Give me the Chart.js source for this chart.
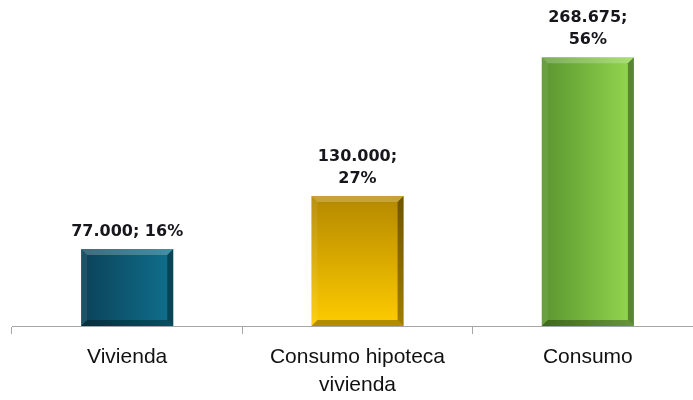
<!DOCTYPE html>
<html>
<head>
<meta charset="utf-8">
<script src="https://cdn.jsdelivr.net/npm/chart.js@4"></script>
<style>
  html, body { margin: 0; padding: 0; background: #fff; overflow: hidden; }
  #wrap { width: 704px; height: 400px; }
</style>
</head>
<body>
<div id="wrap"><canvas id="creditChart"></canvas></div>
<script>
// data
const categories = [['Vivienda'], ['Consumo hipoteca', 'vivienda'], ['Consumo']];
const amounts = [77000, 130000, 268675];
const shares = [16, 27, 56];
const wrapLabel = [false, true, true];

const fmtThousands = v => String(v).replace(/\B(?=(\d{3})+(?!\d))/g, '.');

// colours for each bar
const barStyles = [
    { from: '#0b4258', to: '#10708e', dir: 'h' },
    { from: '#b48800', to: '#ffcc00', dir: 'v' },
    { from: '#5a952f', to: '#94d84f', dir: 'h' }
];
const BAR_PCT = 0.8, CAT_PCT = 0.5;

function barFill(context) {
    const chart = context.chart;
    const st = barStyles[context.dataIndex];
    const xs = chart.scales.x, ys = chart.scales.y;
    if (!chart.chartArea || !xs || !ys) return st.to;
    const i = context.dataIndex;
    const cx = xs.getPixelForValue(i);
    const w = xs.width / categories.length * BAR_PCT * CAT_PCT;
    const top = ys.getPixelForValue(amounts[i]);
    const base = ys.getPixelForValue(0);
    if (![cx, w, top, base].every(Number.isFinite)) return st.to;
    const c = chart.ctx;
    const g = st.dir === 'h'
        ? c.createLinearGradient(cx - w / 2, 0, cx + w / 2, 0)
        : c.createLinearGradient(0, top, 0, base);
    g.addColorStop(0, st.from);
    g.addColorStop(1, st.to);
    return g;
}

// bevel look on the bars
const bevelPlugin = {
    id: 'bevel',
    afterDatasetsDraw(chart) {
        const c = chart.ctx;
        const meta = chart.getDatasetMeta(0);
        const b = 6;
        meta.data.forEach((bar) => {
            const l = bar.x - bar.width / 2, r = bar.x + bar.width / 2, t = bar.y, bt = bar.base;
            c.save();
            c.fillStyle = 'rgba(255,255,255,0.22)';
            c.beginPath();
            c.moveTo(l, t); c.lineTo(r, t); c.lineTo(r - b, t + b); c.lineTo(l + b, t + b); c.closePath(); c.fill();
            c.fillStyle = 'rgba(255,255,255,0.08)';
            c.beginPath();
            c.moveTo(l, t); c.lineTo(l + b, t + b); c.lineTo(l + b, bt - b); c.lineTo(l, bt); c.closePath(); c.fill();
            c.fillStyle = 'rgba(0,0,0,0.38)';
            c.beginPath();
            c.moveTo(r, t); c.lineTo(r, bt); c.lineTo(r - b, bt - b); c.lineTo(r - b, t + b); c.closePath(); c.fill();
            c.fillStyle = 'rgba(0,0,0,0.30)';
            c.beginPath();
            c.moveTo(l, bt); c.lineTo(r, bt); c.lineTo(r - b, bt - b); c.lineTo(l + b, bt - b); c.closePath(); c.fill();
            c.restore();
        });
    }
};

// value labels above bars
const valueLabels = {
    id: 'valueLabels',
    afterDatasetsDraw(chart) {
        const c = chart.ctx;
        const meta = chart.getDatasetMeta(0);
        c.save();
        c.font = 'bold 16px "DejaVu Sans", sans-serif';
        c.fillStyle = '#16161c';
        c.textAlign = 'center';
        c.textBaseline = 'middle';
        meta.data.forEach((bar, i) => {
            const txt = fmtThousands(amounts[i]) + ';';
            const lines = wrapLabel[i] ? [txt, shares[i] + '%'] : [txt + ' ' + shares[i] + '%'];
            const lh = 22;
            lines.forEach((ln, k) => {
                c.fillText(ln, bar.x, bar.y - 17 - (lines.length - 1 - k) * lh);
            });
        });
        c.restore();
    }
};

const ctx = document.getElementById('creditChart').getContext('2d');
const creditChart = new Chart(ctx, {
    type: 'bar',
    data: {
        labels: categories,
        datasets: [{
            data: amounts,
            backgroundColor: barFill,
            borderWidth: 0,
            barPercentage: BAR_PCT,
            categoryPercentage: CAT_PCT
        }]
    },
    options: {
        responsive: true,
        maintainAspectRatio: false,
        animation: false,
        layout: {
            padding: { top: 26, left: 12, right: 1, bottom: 0 }
        },
        plugins: {
            legend: { display: false },
            tooltip: { enabled: false }
        },
        scales: {
            y: {
                display: false,
                min: 0,
                max: 300000
            },
            x: {
                afterFit: s => { s.height = 74; },
                border: { display: true, color: '#a6a6a6', width: 1 },
                grid: {
                    offset: true,
                    drawOnChartArea: false,
                    drawTicks: true,
                    tickLength: 8,
                    color: '#a6a6a6'
                },
                ticks: {
                    color: '#111',
                    padding: 10,
                    font: { size: 21, lineHeight: 1.3, family: "'Liberation Sans', sans-serif" }
                }
            }
        }
    },
    plugins: [bevelPlugin, valueLabels]
});
</script>
</body>
</html>
